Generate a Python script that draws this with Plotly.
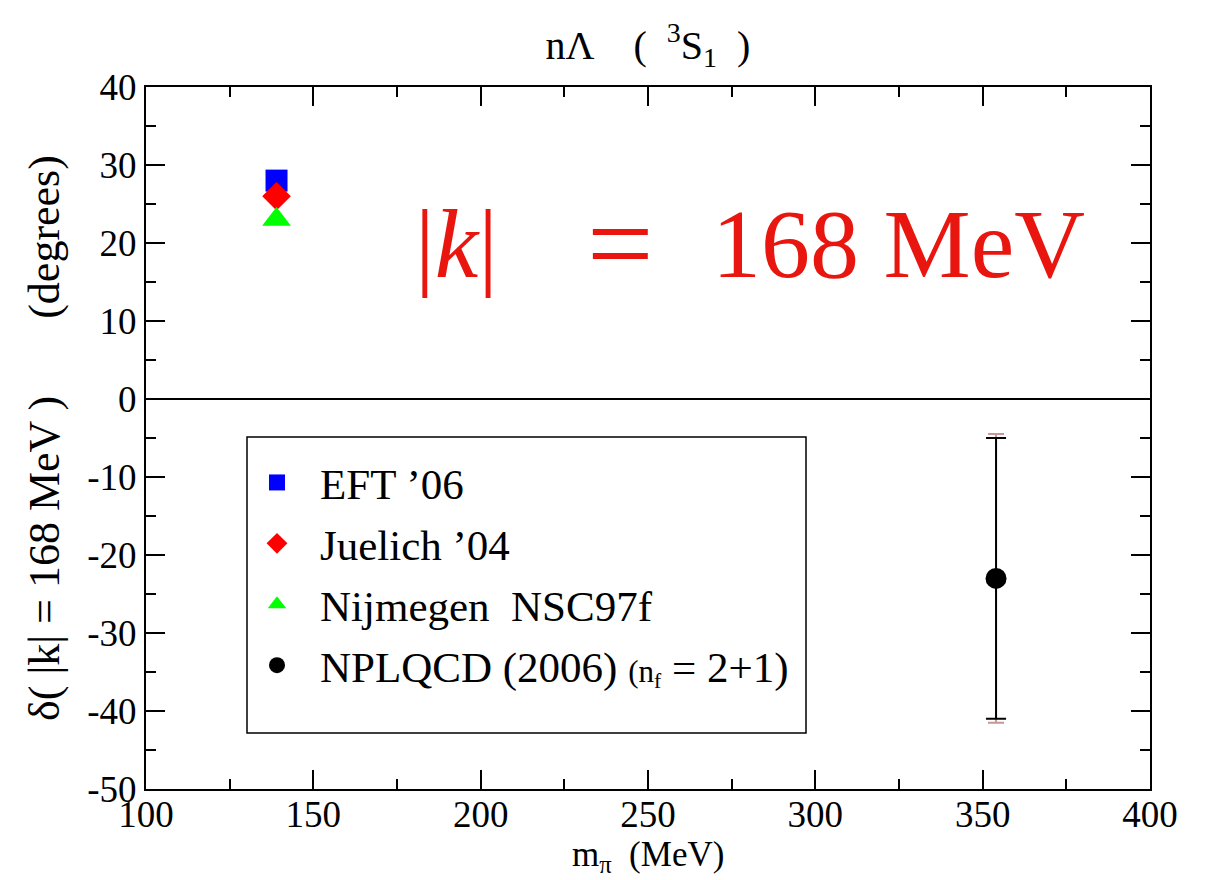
import plotly.graph_objects as go

# Phase shift of the n-Lambda 3S1 channel at |k| = 168 MeV
model_names = ["EFT ’06", "Juelich ’04", "Nijmegen  NSC97f"]
model_mpi = [139, 139, 139]
model_delta = [28, 26, 23]
model_symbols = ["square", "diamond", "triangle-up"]
model_colors = ["#0000ff", "#ff0000", "#00ff00"]
model_sizes = [22, 22, 25]

lattice_name = "NPLQCD (2006) <span style='font-size:31px'>(n<sub>f</sub></span> = 2+1)"
lattice_mpi = [354]
lattice_delta = [-23]
lattice_err_stat = [18]
lattice_err_total = [18.5]

x_ticks = [100, 150, 200, 250, 300, 350, 400]
x_ticktext = ["100", "150", "200", "250", "300", "350", "400"]
y_ticks = [-50, -40, -30, -20, -10, 0, 10, 20, 30, 40]
y_ticktext = ["-50", "-40", "-30", "-20", "-10", "0", "10", "20", "30", "40"]

FONT = "Liberation Serif"
RED = "#e8160f"
LEFT, RIGHT, TOP, BOTTOM = 146, 62, 87, 91
W, H = 1212, 880
PW, PH = W - LEFT - RIGHT, H - TOP - BOTTOM


def px_x(px):
    return (px - LEFT) / PW


def px_y(py):
    return (H - BOTTOM - py) / PH


fig = go.Figure()

# outer (total) uncertainty drawn underneath the statistical bar
fig.add_trace(go.Scatter(
    x=lattice_mpi, y=lattice_delta, mode="markers",
    marker=dict(size=1, color="rgba(0,0,0,0)"),
    error_y=dict(type="data", array=lattice_err_total, color="#c89696",
                 thickness=2, width=8),
    showlegend=False, hoverinfo="skip",
))

for name, x, y, sym, col, sz in zip(model_names, model_mpi, model_delta,
                                    model_symbols, model_colors, model_sizes):
    fig.add_trace(go.Scatter(
        x=[x], y=[y], mode="markers", name=name,
        marker=dict(symbol=sym, size=sz, color=col, line=dict(width=0)),
        legendgroup=name,
    ))

fig.add_trace(go.Scatter(
    x=lattice_mpi, y=lattice_delta, mode="markers", name=lattice_name,
    marker=dict(symbol="circle", size=21, color="black"),
    error_y=dict(type="data", array=lattice_err_stat, color="black",
                 thickness=2, width=10),
    legendgroup="lattice",
))

axis_common = dict(
    showline=True, linecolor="black", linewidth=2, mirror="ticks",
    ticks="inside", ticklen=19, tickwidth=2, tickcolor="black",
    showgrid=False, tickmode="array",
    tickfont=dict(family=FONT, size=37, color="black"),
)

fig.update_xaxes(
    range=[100, 400], tickvals=x_ticks, ticktext=x_ticktext, zeroline=False,
    ticklabelstandoff=-8,
    minor=dict(ticks="inside", ticklen=10, tickwidth=2, tickcolor="black",
               tickmode="linear", tick0=100, dtick=25),
    **axis_common,
)
fig.update_yaxes(
    range=[-50, 40], tickvals=y_ticks, ticktext=y_ticktext,
    zeroline=True, zerolinecolor="black", zerolinewidth=2,
    minor=dict(ticks="inside", ticklen=10, tickwidth=2, tickcolor="black",
               tickmode="linear", tick0=-50, dtick=5),
    title=dict(text="δ( |k| = 168 MeV )       (degrees)",
               font=dict(family=FONT, size=44, color="black"), standoff=14),
    **axis_common,
)

# x-axis title, set tight under the tick labels
fig.add_annotation(
    x=px_x(648), y=px_y(856), xref="paper", yref="paper",
    text="m<sub>π</sub>  (MeV)", showarrow=False,
    xanchor="center", yanchor="middle",
    font=dict(family=FONT, size=35, color="black"),
)

# legend frame
fig.add_shape(type="rect", xref="paper", yref="paper",
              x0=px_x(247), x1=px_x(806), y0=px_y(733), y1=px_y(437),
              line=dict(color="black", width=1.5), fillcolor="white", layer="below")

# momentum label
for txt, cx, fs in [("|<i>k</i>|", 456, 98), ("=", 620, 118), ("168 MeV", 898, 98)]:
    fig.add_annotation(
        x=px_x(cx), y=px_y(244), xref="paper", yref="paper",
        text=txt, showarrow=False, xanchor="center", yanchor="middle",
        font=dict(family=FONT, size=fs, color=RED),
    )

fig.update_layout(
    width=W, height=H,
    margin=dict(l=LEFT, r=RIGHT, t=TOP, b=BOTTOM),
    paper_bgcolor="white", plot_bgcolor="white",
    font=dict(family=FONT, color="black"),
    title=dict(text="nΛ    (  <sup>3</sup>S<sub>1</sub>  )",
               x=0.5, xref="paper", y=1 - 45 / 880, yanchor="middle",
               font=dict(family=FONT, size=40, color="black")),
    legend=dict(
        x=px_x(234), y=px_y(448), xanchor="left", yanchor="top",
        bgcolor="rgba(0,0,0,0)", borderwidth=0,
        font=dict(family=FONT, size=43, color="black"),
        traceorder="grouped", tracegroupgap=2, itemwidth=76,
    ),
    showlegend=True,
)

fig.write_html("out.html")
